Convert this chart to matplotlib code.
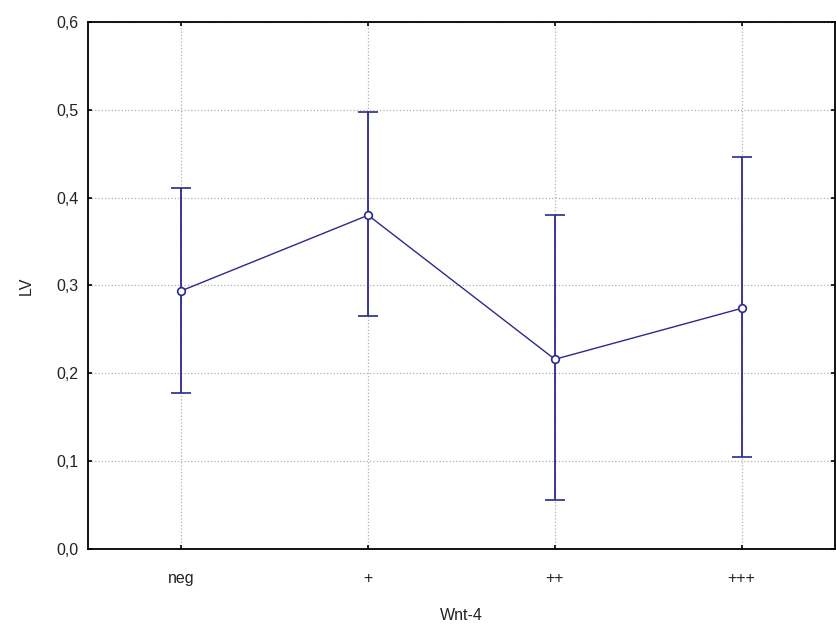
import matplotlib
matplotlib.use('Agg')
import matplotlib.pyplot as plt
import matplotlib.ticker as mticker

# medias e limites do intervalo
categorias = ['neg', '+', '++', '+++']
media = [0.294, 0.380, 0.216, 0.274]
limite_sup = [0.411, 0.497, 0.380, 0.446]
limite_inf = [0.178, 0.265, 0.056, 0.105]

plt.rcParams['font.family'] = ['Liberation Sans', 'DejaVu Sans']
plt.rcParams['font.size'] = 11.5

cor = '#2a2a8c'
x = list(range(len(categorias)))
err_sup = [s - m for s, m in zip(limite_sup, media)]
err_inf = [m - i for m, i in zip(media, limite_inf)]

fig = plt.figure(figsize=(8.36, 6.28), dpi=100)
ax = fig.add_axes([88 / 836, 79 / 628, 747 / 836, 527 / 628])

ax.errorbar(x, media, yerr=[err_inf, err_sup], color=cor, linewidth=1.0,
            elinewidth=1.3, capsize=7, capthick=1.3,
            marker='o', markersize=5.5, markerfacecolor='white',
            markeredgecolor=cor, markeredgewidth=1.2, zorder=3)

ax.set_xlim(-0.5, 3.5)
ax.set_ylim(0, 0.6)
ax.set_xticks(x)
ax.set_xticklabels(categorias)
ax.yaxis.set_major_locator(mticker.MultipleLocator(0.1))
ax.yaxis.set_major_formatter(mticker.FuncFormatter(lambda v, p: f'{v:.1f}'.replace('.', ',')))

ax.tick_params(direction='in', length=3, width=1.2, top=True, right=True,
               colors='black', labelcolor='#222222', pad=7)
ax.tick_params(axis='x', pad=16)
for s in ax.spines.values():
    s.set_linewidth(1.3)
    s.set_color('black')

ax.grid(True, linestyle=':', color='#b0b0b0', linewidth=0.9)
ax.set_axisbelow(True)

ax.set_xlabel('Wnt-4', labelpad=16, color='#222222')
ax.set_ylabel('LV', labelpad=16, color='#222222')

plt.savefig('out.png', dpi=100)
plt.close()
